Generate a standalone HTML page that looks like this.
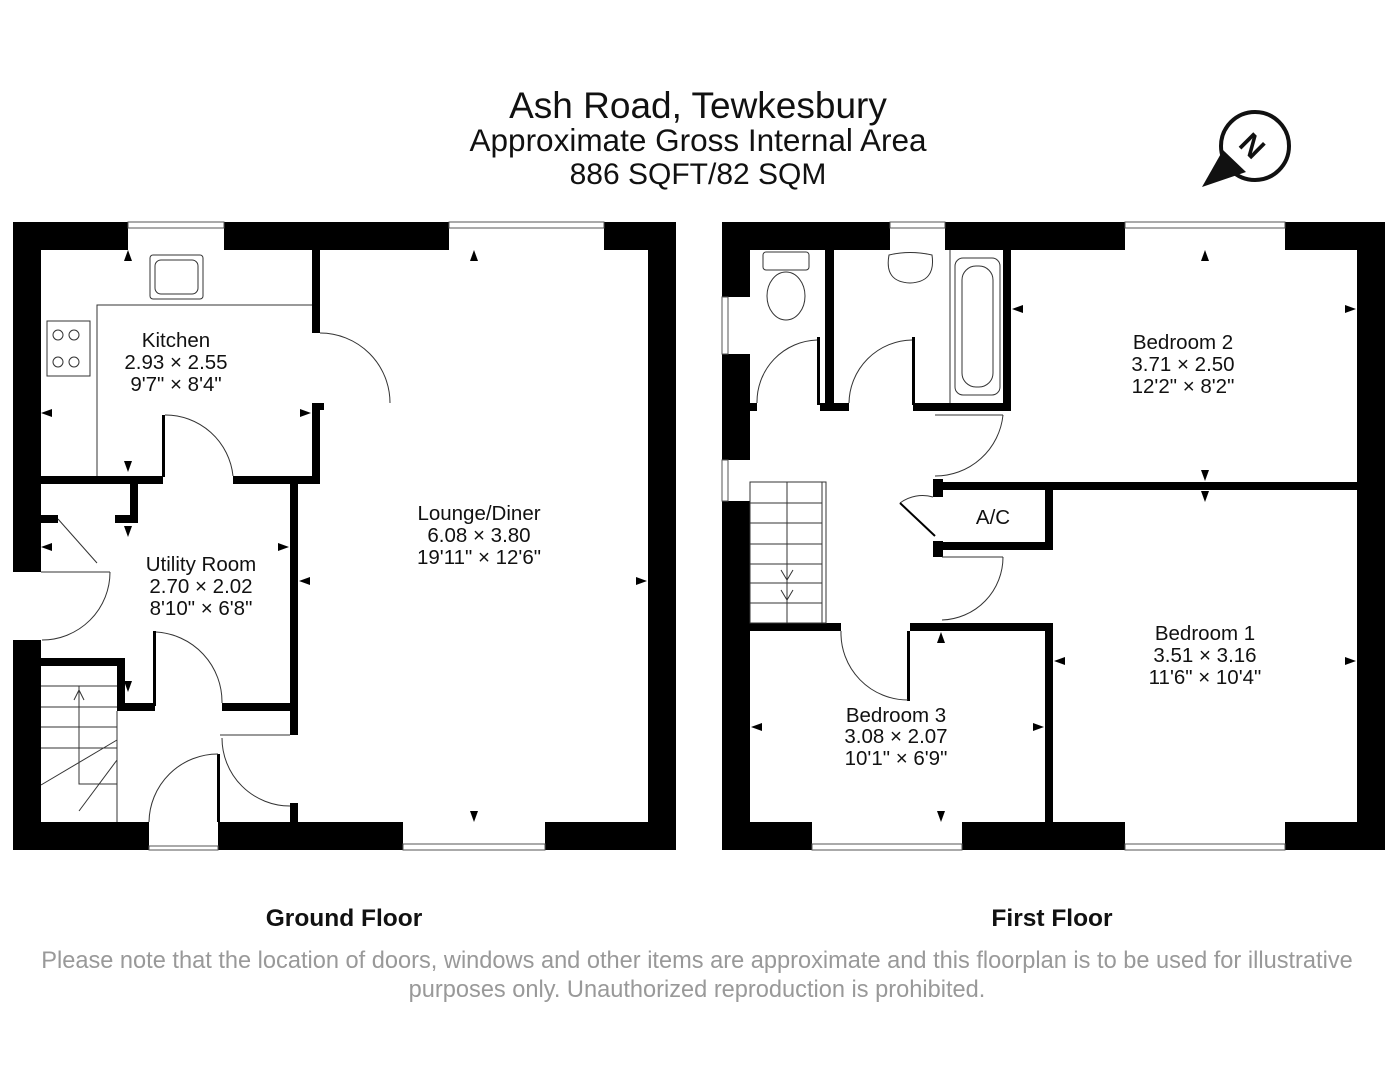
<!DOCTYPE html>
<html><head><meta charset="utf-8"><style>
html,body{margin:0;padding:0;background:#fff;}
svg{display:block;}
text{font-family:"Liberation Sans",sans-serif;}
</style></head><body>
<svg width="1398" height="1080" viewBox="0 0 1398 1080" xmlns="http://www.w3.org/2000/svg">
<rect width="1398" height="1080" fill="#fff"/>
<g text-anchor="middle" fill="#111">
<text x="698" y="118" font-size="37">Ash Road, Tewkesbury</text>
<text x="698" y="151" font-size="31.5">Approximate Gross Internal Area</text>
<text x="698" y="184" font-size="30">886 SQFT/82 SQM</text>
</g>
<circle cx="1255" cy="146" r="34" fill="none" stroke="#111" stroke-width="4"/>
<polygon points="1202,187 1223,150 1246,172" fill="#111"/>
<text x="1252" y="156" font-size="30" font-weight="bold" text-anchor="middle" transform="rotate(45 1252 146)" fill="#111">N</text>

<g fill="#000">
<rect x="13" y="222" width="115" height="28"/>
<rect x="224" y="222" width="225" height="28"/>
<rect x="604" y="222" width="72" height="28"/>
<rect x="648" y="222" width="28" height="628"/>
<rect x="13" y="822" width="136" height="28"/>
<rect x="218" y="822" width="185" height="28"/>
<rect x="545" y="822" width="131" height="28"/>
<rect x="13" y="222" width="28" height="350"/>
<rect x="13" y="640" width="28" height="210"/>
<rect x="41" y="476" width="122" height="8"/>
<rect x="233" y="476" width="87" height="8"/>
<rect x="312" y="250" width="8" height="83"/>
<rect x="312" y="403" width="8" height="81"/>
<rect x="312" y="403" width="12" height="7"/>
<rect x="290" y="484" width="8" height="251"/>
<rect x="290" y="803" width="8" height="19"/>
<rect x="222" y="703" width="76" height="8"/>
<rect x="117" y="703" width="38" height="8"/>
<rect x="153" y="631" width="3" height="75"/>
<rect x="117" y="658" width="8" height="53"/>
<rect x="13" y="658" width="112" height="8"/>
<rect x="41" y="515" width="17" height="8"/>
<rect x="115" y="515" width="23" height="8"/>
<rect x="130" y="484" width="8" height="39"/>
<rect x="162" y="415" width="3" height="62"/>
<rect x="217" y="754" width="3" height="68"/>

<rect x="722" y="222" width="168" height="28"/>
<rect x="945" y="222" width="180" height="28"/>
<rect x="1285" y="222" width="100" height="28"/>
<rect x="1357" y="222" width="28" height="628"/>
<rect x="722" y="822" width="90" height="28"/>
<rect x="962" y="822" width="163" height="28"/>
<rect x="1285" y="822" width="100" height="28"/>
<rect x="722" y="222" width="28" height="75"/>
<rect x="722" y="354" width="28" height="106"/>
<rect x="722" y="501" width="28" height="349"/>
<rect x="825" y="250" width="9" height="161"/>
<rect x="1003" y="250" width="8" height="161"/>
<rect x="750" y="403" width="7" height="8"/>
<rect x="820" y="403" width="29" height="8"/>
<rect x="913" y="403" width="98" height="8"/>
<rect x="817" y="337" width="3" height="68"/>
<rect x="912" y="337" width="3" height="68"/>
<rect x="933" y="482" width="452" height="8"/>
<rect x="933" y="479" width="10" height="18"/>
<rect x="933" y="541" width="10" height="16"/>
<rect x="1045" y="482" width="8" height="68"/>
<rect x="933" y="542" width="120" height="8"/>
<rect x="722" y="623" width="119" height="8"/>
<rect x="910" y="623" width="143" height="8"/>
<rect x="1045" y="623" width="8" height="227"/>
<rect x="907" y="631" width="3" height="70"/>
</g>

<g fill="none" stroke="#333" stroke-width="1">
<polyline points="312,305 97,305 97,476"/>
<rect x="150" y="255" width="53" height="44" rx="3"/>
<rect x="155" y="260" width="43" height="34" rx="6"/>
<rect x="47" y="321" width="43" height="55"/>
<circle cx="58" cy="335" r="5"/><circle cx="74" cy="335" r="5"/>
<circle cx="58" cy="362" r="5"/><circle cx="74" cy="362" r="5"/>
<path d="M320,333 A70,70 0 0 1 390,403"/>
<path d="M165,415 A68,68 0 0 1 233,476"/>
<path d="M110,572 A68,68 0 0 1 42,640"/>
<line x1="58" y1="519" x2="97" y2="563"/>
<line x1="41" y1="572" x2="110" y2="572"/>
<path d="M156,632 A70,70 0 0 1 222,703"/>
<path d="M149,822 A69,69 0 0 1 218,754"/>
<line x1="220" y1="735" x2="290" y2="735"/>
<path d="M222,738 A68,68 0 0 0 290,806"/>
<line x1="41" y1="686" x2="117" y2="686"/>
<line x1="41" y1="707" x2="117" y2="707"/>
<line x1="41" y1="727" x2="117" y2="727"/>
<line x1="41" y1="748" x2="117" y2="748"/>
<polyline points="79,686 79,784 117,784"/>
<line x1="117" y1="711" x2="117" y2="822"/>
<line x1="41" y1="785" x2="117" y2="740"/>
<line x1="79" y1="811" x2="117" y2="760"/>
<polyline points="74,700 79,690 84,700"/>
<g stroke="#555">
<rect x="128" y="222" width="96" height="6"/><rect x="449" y="222" width="155" height="6"/>
<rect x="403" y="844" width="142" height="6"/><rect x="149" y="846" width="69" height="4"/>
<rect x="890" y="222" width="55" height="6"/><rect x="1125" y="222" width="160" height="6"/>
<rect x="812" y="844" width="150" height="6"/><rect x="1125" y="844" width="160" height="6"/>
<rect x="722" y="297" width="6" height="57"/><rect x="722" y="460" width="6" height="41"/>
</g>
<rect x="763" y="252" width="46" height="18" rx="3"/>
<ellipse cx="786" cy="296" rx="19" ry="24"/>
<path d="M889,255 Q910,250 932,255 Q936,282 910,283 Q884,282 889,255Z"/>
<rect x="955" y="258" width="45" height="137" rx="8"/>
<rect x="962" y="266" width="31" height="121" rx="14"/>
<line x1="950" y1="250" x2="950" y2="403"/>
<path d="M757,403 A62,62 0 0 1 817,340"/>
<path d="M849,403 A64,64 0 0 1 912,340"/>
<line x1="935" y1="415" x2="1003" y2="415"/>
<path d="M1003,415 A68,68 0 0 1 935,476"/>
<path d="M933,497 A38,38 0 0 0 900,503"/>
<line x1="900" y1="503" x2="935" y2="536" stroke-width="2" stroke="#000"/>
<line x1="942" y1="557" x2="1003" y2="557"/>
<path d="M1003,557 A63,63 0 0 1 942,620"/>
<path d="M841,631 A67,67 0 0 0 908,700"/>
<rect x="750" y="482" width="76" height="141"/>
<line x1="822" y1="482" x2="822" y2="623"/>
<line x1="787" y1="482" x2="787" y2="623"/>
<line x1="750" y1="503" x2="822" y2="503"/>
<line x1="750" y1="523" x2="822" y2="523"/>
<line x1="750" y1="544" x2="822" y2="544"/>
<line x1="750" y1="564" x2="822" y2="564"/>
<line x1="750" y1="583" x2="822" y2="583"/>
<line x1="750" y1="603" x2="822" y2="603"/>
<polyline points="781,570 787,580 793,570"/>
<polyline points="781,590 787,600 793,590"/>
</g>

<g fill="#000">
<polygon points="124,261 132,261 128,250"/>
<polygon points="124,461 132,461 128,472"/>
<polygon points="41,413 52,409 52,417"/>
<polygon points="311,413 300,409 300,417"/>
<polygon points="124,526 132,526 128,537"/>
<polygon points="128,692 124,681 132,681"/>
<polygon points="41,547 52,543 52,551"/>
<polygon points="289,547 278,543 278,551"/>
<polygon points="299,581 310,577 310,585"/>
<polygon points="647,581 636,577 636,585"/>
<polygon points="470,261 478,261 474,250"/>
<polygon points="470,811 478,811 474,822"/>
<polygon points="1201,261 1209,261 1205,250"/>
<polygon points="1201,470 1209,470 1205,481"/>
<polygon points="1201,491 1209,491 1205,502"/>
<polygon points="1012,309 1023,305 1023,313"/>
<polygon points="1356,309 1345,305 1345,313"/>
<polygon points="1054,661 1065,657 1065,665"/>
<polygon points="1356,661 1345,657 1345,665"/>
<polygon points="937,643 945,643 941,632"/>
<polygon points="937,811 945,811 941,822"/>
<polygon points="751,727 762,723 762,731"/>
<polygon points="1044,727 1033,723 1033,731"/>
</g>

<g text-anchor="middle" font-size="20.5" fill="#111">
<text x="176" y="347">Kitchen</text><text x="176" y="369">2.93 × 2.55</text><text x="176" y="391">9'7" × 8'4"</text>
<text x="201" y="571">Utility Room</text><text x="201" y="593">2.70 × 2.02</text><text x="201" y="615">8'10" × 6'8"</text>
<text x="479" y="520">Lounge/Diner</text><text x="479" y="542">6.08 × 3.80</text><text x="479" y="564">19'11" × 12'6"</text>
<text x="1183" y="349">Bedroom 2</text><text x="1183" y="371">3.71 × 2.50</text><text x="1183" y="393">12'2" × 8'2"</text>
<text x="993" y="524">A/C</text>
<text x="1205" y="640">Bedroom 1</text><text x="1205" y="662">3.51 × 3.16</text><text x="1205" y="684">11'6" × 10'4"</text>
<text x="896" y="722">Bedroom 3</text><text x="896" y="743">3.08 × 2.07</text><text x="896" y="765">10'1" × 6'9"</text>
</g>
<g text-anchor="middle" font-size="24.5" font-weight="bold" fill="#111">
<text x="344" y="926">Ground Floor</text>
<text x="1052" y="926">First Floor</text>
</g>
<g text-anchor="middle" font-size="23.6" fill="#999">
<text x="697" y="968">Please note that the location of doors, windows and other items are approximate and this floorplan is to be used for illustrative</text>
<text x="697" y="997">purposes only. Unauthorized reproduction is prohibited.</text>
</g>
</svg>
</body></html>
